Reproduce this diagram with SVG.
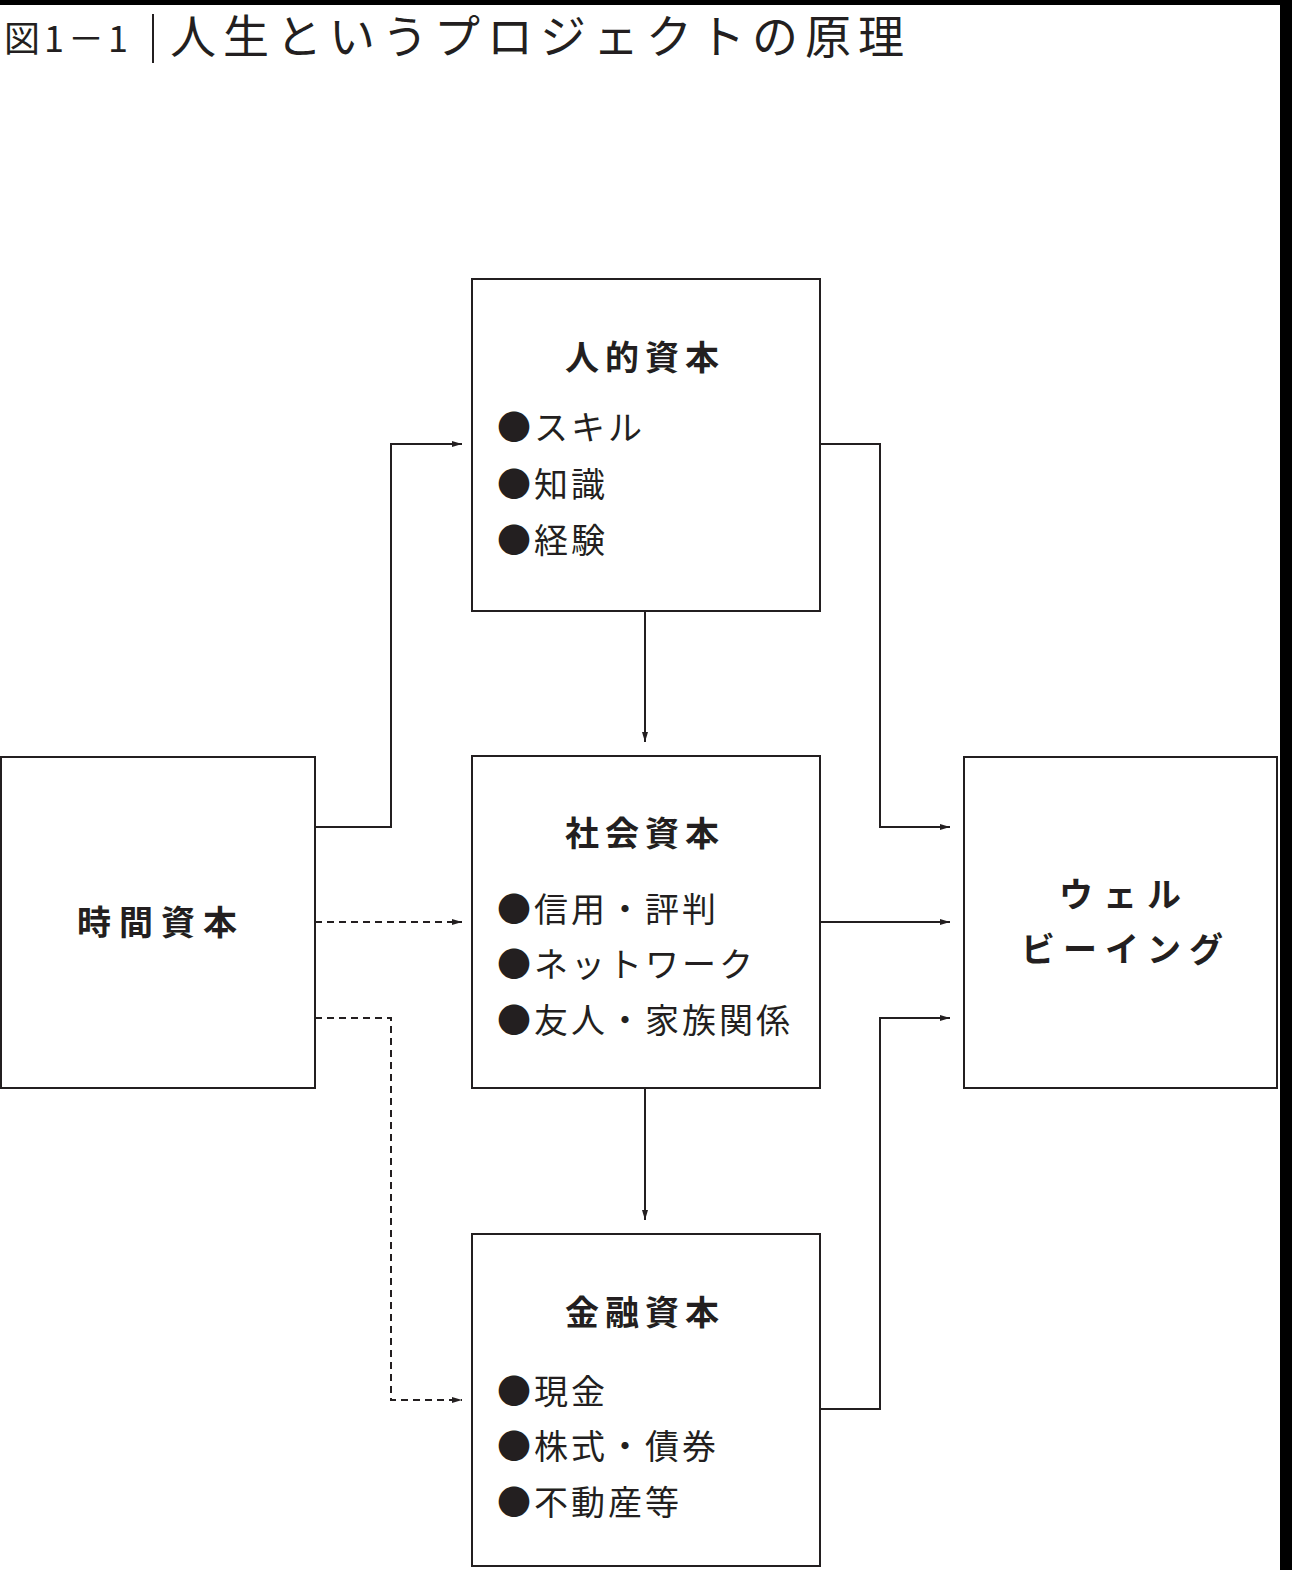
<svg xmlns="http://www.w3.org/2000/svg" width="1292" height="1570" viewBox="0 0 1292 1570">
<style>
.box{fill:#fff;stroke:#231f20;stroke-width:2}
.c{fill:none;stroke:#231f20;stroke-width:2}
.d{stroke-dasharray:7 5}
text{font-family:"Noto Sans CJK JP",sans-serif;fill:#231f20}
.h{font-size:34px;font-weight:bold;text-anchor:middle;letter-spacing:6px}
.b{font-size:34px;letter-spacing:3px}
</style>
<defs><marker id="a" viewBox="0 0 10 6" refX="10" refY="3" markerWidth="10" markerHeight="6" markerUnits="userSpaceOnUse" orient="auto"><path d="M0,0L10,3L0,6z" fill="#231f20"/></marker></defs>
<rect width="1292" height="1570" fill="#fff"/>
<rect x="0" y="0" width="1292" height="5" fill="#000"/>
<rect x="1280" y="0" width="12" height="1570" fill="#000"/>
<text x="4" y="52" font-size="36" letter-spacing="4">図1－1</text>
<line x1="153" y1="14" x2="153" y2="63" stroke="#231f20" stroke-width="2"/>
<text x="170" y="53" font-size="46" letter-spacing="7">人生というプロジェクトの原理</text>
<g id="human"><rect class="box" x="472" y="279" width="348" height="332"/><text class="h" x="645" y="370">人的資本</text><text class="b" x="497" y="440">●スキル</text><text class="b" x="497" y="497">●知識</text><text class="b" x="497" y="553">●経験</text></g>
<g id="social"><rect class="box" x="472" y="756" width="348" height="332"/><text class="h" x="645" y="846">社会資本</text><text class="b" x="497" y="922">●信用・評判</text><text class="b" x="497" y="977">●ネットワーク</text><text class="b" x="497" y="1033">●友人・家族関係</text></g>
<g id="finance"><rect class="box" x="472" y="1234" width="348" height="332"/><text class="h" x="645" y="1325">金融資本</text><text class="b" x="497" y="1404">●現金</text><text class="b" x="497" y="1459">●株式・債券</text><text class="b" x="497" y="1515">●不動産等</text></g>
<g id="time"><rect class="box" x="1" y="757" width="314" height="331"/><text class="h" x="161" y="935" style="letter-spacing:8px">時間資本</text></g>
<g id="wellbeing"><rect class="box" x="964" y="757" width="313" height="331"/><text class="h" x="1125" y="907" style="letter-spacing:10px">ウェル</text><text class="h" x="1126" y="962" style="letter-spacing:8px">ビーイング</text></g>
<g id="connectors">
<path class="c" marker-end="url(#a)" d="M315,827H391V444H462"/>
<path class="c d" marker-end="url(#a)" d="M315,922H462"/>
<path class="c d" marker-end="url(#a)" d="M315,1018H391V1400H462"/>
<path class="c" marker-end="url(#a)" d="M645,611V742"/>
<path class="c" marker-end="url(#a)" d="M645,1088V1220"/>
<path class="c" marker-end="url(#a)" d="M820,444H880V827H950"/>
<path class="c" marker-end="url(#a)" d="M820,922H950"/>
<path class="c" marker-end="url(#a)" d="M820,1409H880V1018H950"/>
</g>
</svg>
